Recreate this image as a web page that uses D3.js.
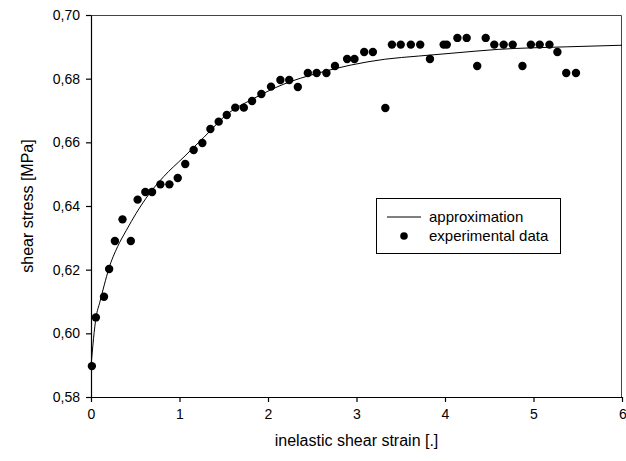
<!DOCTYPE html>
<html>
<head>
<meta charset="utf-8">
<script src="https://cdn.jsdelivr.net/npm/d3@7"></script>
<style>
  html, body { margin: 0; padding: 0; background: #fff; overflow: hidden; }
  svg { display: block; }
  text { font-family: "Liberation Sans", Arial, sans-serif; }
</style>
</head>
<body>
<div id="chart"></div>
<script>
const strainData = [0.01, 0.055, 0.147, 0.205, 0.27, 0.356, 0.45, 0.527, 0.614, 0.69,
  0.784, 0.886, 0.98, 1.065, 1.16, 1.258, 1.349, 1.443, 1.534, 1.63,
  1.727, 1.82, 1.925, 2.034, 2.14, 2.24, 2.337, 2.45, 2.55, 2.66,
  2.757, 2.894, 2.977, 3.087, 3.185, 3.326, 3.40, 3.50, 3.614, 3.72,
  3.83, 3.985, 4.02, 4.14, 4.245, 4.364, 4.46, 4.557, 4.663, 4.765,
  4.875, 4.97, 5.07, 5.18, 5.27, 5.37, 5.48];
const stressData = [0.5897, 0.6050, 0.6115, 0.6202, 0.6290, 0.6358, 0.6290, 0.6420, 0.6444, 0.6444,
  0.6468, 0.6468, 0.6488, 0.6532, 0.6576, 0.6598, 0.6642, 0.6665, 0.6686, 0.6709,
  0.6709, 0.6730, 0.6752, 0.6775, 0.6796, 0.6796, 0.6774, 0.6818, 0.6818, 0.6818,
  0.6840, 0.6862, 0.6862, 0.6884, 0.6884, 0.6708, 0.6907, 0.6907, 0.6907, 0.6907,
  0.6862, 0.6907, 0.6907, 0.6928, 0.6928, 0.6840, 0.6928, 0.6907, 0.6907, 0.6907,
  0.6840, 0.6907, 0.6907, 0.6907, 0.6884, 0.6818, 0.6818];

// approximation curve
const fitStrain = [0, 0.057, 0.1, 0.15, 0.2, 0.3, 0.4, 0.51, 0.66, 0.82, 1.05, 1.28, 1.54,
  1.82, 2.18, 2.56, 2.94, 3.32, 3.70, 4.08, 4.6, 5.37, 6.0];
const fitStress = [0.5897, 0.6050, 0.6098, 0.6152, 0.6202, 0.6272, 0.6324, 0.6377, 0.6439, 0.6492,
  0.6554, 0.6617, 0.6689, 0.6735, 0.6783, 0.6817, 0.6843, 0.6861, 0.6871, 0.6880, 0.6892, 0.6900, 0.6905];

const xTicks = [0, 1, 2, 3, 4, 5, 6];
const yTicks = [0.58, 0.60, 0.62, 0.64, 0.66, 0.68, 0.70];

const legendLabels = ['approximation', 'experimental data'];

const width = 626, height = 461;
const marginLeft = 91, marginTop = 15, marginRight = 4, marginBottom = 64;
const innerWidth = width - marginLeft - marginRight;
const innerHeight = height - marginTop - marginBottom;

let svg = d3.select('#chart')
  .append('svg')
  .attr('width', width)
  .attr('height', height)
  .style('background-color', '#fff');

let g = svg.append('g')
  .attr('transform', `translate(${marginLeft},${marginTop})`);

let xScale = d3.scaleLinear().domain([0, 6]).range([0, innerWidth]);
let yScale = d3.scaleLinear().domain([0.58, 0.70]).range([innerHeight, 0]);

// frame top and right
g.append('path')
  .attr('d', `M0,0.5H${innerWidth - 0.5}V${innerHeight}`)
  .attr('fill', 'none')
  .attr('stroke', '#444')
  .attr('stroke-width', 1);

// axes
let xAxis = g.append('g')
  .attr('transform', `translate(0,${innerHeight})`)
  .call(d3.axisBottom(xScale).tickValues(xTicks).tickSize(5).tickSizeOuter(0).tickPadding(7)
    .tickFormat(d3.format('d')));

let yAxis = g.append('g')
  .call(d3.axisLeft(yScale).tickValues(yTicks).tickSize(5).tickSizeOuter(0).tickPadding(6)
    .tickFormat(d => d3.format('.2f')(d).replace('.', ',')));

[xAxis, yAxis].forEach(a => {
  a.selectAll('path, line').attr('stroke', '#000').attr('stroke-width', 1.2);
  a.selectAll('text').attr('fill', '#000').style('font-size', '14px')
    .style('font-family', '"Liberation Sans", Arial, sans-serif');
});

// last x label sits at the right edge, keep it inside
xAxis.selectAll('.tick text').filter(d => d === 6).attr('text-anchor', 'end').attr('dx', '0.3em');

// axis titles
svg.append('text')
  .attr('x', marginLeft + innerWidth / 2)
  .attr('y', 446)
  .attr('text-anchor', 'middle')
  .style('font-size', '16px')
  .text('inelastic shear strain [.]');

svg.append('text')
  .attr('transform', `translate(33,${marginTop + innerHeight / 2}) rotate(-90)`)
  .attr('text-anchor', 'middle')
  .style('font-size', '16px')
  .text('shear stress [MPa]');

// approximation line
let fitData = fitStrain.map((d, i) => [d, fitStress[i]]);
g.append('path')
  .datum(fitData)
  .attr('fill', 'none')
  .attr('stroke', '#000')
  .attr('stroke-width', 1)
  .attr('d', d3.line()
    .x(d => xScale(d[0]))
    .y(d => yScale(d[1]))
    .curve(d3.curveMonotoneX));

// experimental points
g.append('g')
  .selectAll('circle')
  .data(strainData.map((d, i) => [d, stressData[i]]))
  .join('circle')
  .attr('cx', d => xScale(d[0]))
  .attr('cy', d => yScale(d[1]))
  .attr('r', 4.2)
  .attr('fill', '#000');

// legend
let legend = svg.append('g').attr('transform', 'translate(376,198)');
legend.append('rect')
  .attr('x', 0.5).attr('y', 0.5)
  .attr('width', 184).attr('height', 55)
  .attr('fill', '#fff')
  .attr('stroke', '#000');

legend.append('line')
  .attr('x1', 11).attr('x2', 45)
  .attr('y1', 19).attr('y2', 19)
  .attr('stroke', '#000');
legend.append('circle')
  .attr('cx', 28).attr('cy', 38).attr('r', 3.8)
  .attr('fill', '#000');

legend.selectAll('text.lab')
  .data(legendLabels)
  .join('text')
  .attr('class', 'lab')
  .attr('x', 53)
  .attr('y', (d, i) => 24 + i * 19)
  .style('font-size', '15px')
  .text(d => d);
</script>
</body>
</html>
